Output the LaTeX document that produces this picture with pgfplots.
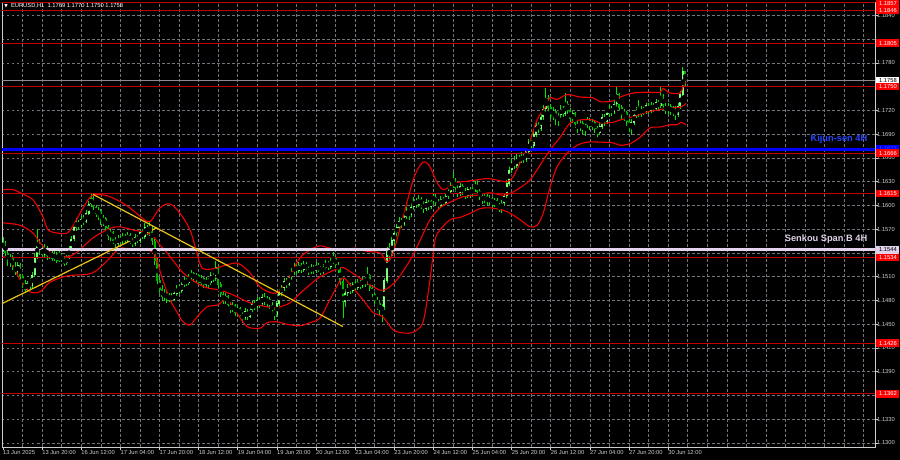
\documentclass[border=0pt]{standalone}
\usepackage{fontspec}
\setmainfont{Liberation Sans}
\newfontfamily\djv{DejaVu Sans}
\usepackage{pgfplots}
\pgfplotsset{compat=1.18}
\usepackage{pgfplotstable}
\definecolor{wick}{RGB}{0,230,0}
\definecolor{bull}{RGB}{125,255,125}
\definecolor{bear}{RGB}{0,180,0}
\definecolor{band}{RGB}{240,0,0}
\definecolor{lvl}{RGB}{195,0,0}
\definecolor{kijun}{RGB}{0,0,255}
\definecolor{kijuntxt}{RGB}{40,70,255}
\definecolor{senkou}{RGB}{225,210,235}
\definecolor{tline}{RGB}{235,195,20}
\definecolor{gridc}{RGB}{115,115,125}
\definecolor{tagred}{RGB}{255,0,0}
\definecolor{txt}{RGB}{205,205,205}
\newcommand{\sm}{\fontsize{5.8}{6.5}\selectfont}

\pgfplotstableread{
i o h l c
0 1.1545 1.1560 1.1541 1.1552
1 1.1552 1.1555 1.1536 1.1540
2 1.1540 1.1546 1.1524 1.1530
3 1.1530 1.1539 1.1522 1.1534
4 1.1534 1.1537 1.1518 1.1522
5 1.1522 1.1528 1.1512 1.1516
6 1.1516 1.1529 1.1512 1.1525
7 1.1525 1.1527 1.1505 1.1510
8 1.1510 1.1514 1.1496 1.1500
9 1.1500 1.1506 1.1490 1.1494
10 1.1494 1.1505 1.1491 1.1502
11 1.1502 1.1508 1.1495 1.1498
12 1.1498 1.1516 1.1496 1.1512
13 1.1512 1.1540 1.1510 1.1535
14 1.1535 1.1570 1.1532 1.1552
15 1.1552 1.1558 1.1538 1.1545
16 1.1545 1.1550 1.1534 1.1538
17 1.1538 1.1552 1.1535 1.1546
18 1.1546 1.1549 1.1531 1.1536
19 1.1536 1.1545 1.1532 1.1540
20 1.1540 1.1544 1.1530 1.1533
21 1.1533 1.1542 1.1530 1.1538
22 1.1538 1.1541 1.1527 1.1530
23 1.1530 1.1546 1.1529 1.1536
24 1.1536 1.1540 1.1528 1.1532
25 1.1532 1.1536 1.1524 1.1527
26 1.1527 1.1538 1.1525 1.1534
27 1.1534 1.1549 1.1532 1.1545
28 1.1545 1.1562 1.1542 1.1558
29 1.1558 1.1576 1.1555 1.1572
30 1.1572 1.1584 1.1568 1.1578
31 1.1578 1.1582 1.1570 1.1574
32 1.1574 1.1587 1.1571 1.1583
33 1.1583 1.1588 1.1576 1.1580
34 1.1580 1.1594 1.1578 1.1590
35 1.1590 1.1606 1.1588 1.1602
36 1.1602 1.1614 1.1598 1.1609
37 1.1609 1.1612 1.1594 1.1598
38 1.1598 1.1601 1.1585 1.1590
39 1.1590 1.1598 1.1582 1.1593
40 1.1593 1.1595 1.1576 1.1580
41 1.1580 1.1588 1.1574 1.1584
42 1.1584 1.1586 1.1568 1.1572
43 1.1572 1.1575 1.1557 1.1562
44 1.1562 1.1570 1.1555 1.1566
45 1.1566 1.1568 1.1552 1.1556
46 1.1556 1.1560 1.1548 1.1552
47 1.1552 1.1563 1.1549 1.1558
48 1.1558 1.1562 1.1551 1.1555
49 1.1555 1.1565 1.1552 1.1561
50 1.1561 1.1564 1.1553 1.1557
51 1.1557 1.1566 1.1554 1.1562
52 1.1562 1.1565 1.1551 1.1556
53 1.1556 1.1559 1.1548 1.1552
54 1.1552 1.1564 1.1549 1.1560
55 1.1560 1.1563 1.1552 1.1556
56 1.1556 1.1570 1.1553 1.1566
57 1.1566 1.1569 1.1557 1.1560
58 1.1560 1.1578 1.1558 1.1572
59 1.1572 1.1576 1.1563 1.1568
60 1.1568 1.1580 1.1562 1.1570
61 1.1570 1.1574 1.1550 1.1555
62 1.1555 1.1558 1.1525 1.1530
63 1.1530 1.1534 1.1500 1.1505
64 1.1505 1.1510 1.1488 1.1494
65 1.1494 1.1499 1.1480 1.1485
66 1.1485 1.1494 1.1479 1.1490
67 1.1490 1.1493 1.1477 1.1482
68 1.1482 1.1490 1.1478 1.1486
69 1.1486 1.1489 1.1477 1.1481
70 1.1481 1.1492 1.1479 1.1489
71 1.1489 1.1499 1.1486 1.1495
72 1.1495 1.1500 1.1488 1.1492
73 1.1492 1.1504 1.1490 1.1500
74 1.1500 1.1510 1.1497 1.1505
75 1.1505 1.1509 1.1498 1.1502
76 1.1502 1.1514 1.1500 1.1510
77 1.1510 1.1518 1.1506 1.1514
78 1.1514 1.1516 1.1504 1.1508
79 1.1508 1.1515 1.1503 1.1512
80 1.1512 1.1514 1.1499 1.1503
81 1.1503 1.1512 1.1500 1.1508
82 1.1508 1.1510 1.1496 1.1500
83 1.1500 1.1510 1.1497 1.1506
84 1.1506 1.1509 1.1496 1.1502
85 1.1502 1.1516 1.1500 1.1512
86 1.1512 1.1515 1.1503 1.1508
87 1.1508 1.1530 1.1505 1.1522
88 1.1522 1.1525 1.1495 1.1500
89 1.1500 1.1503 1.1484 1.1488
90 1.1488 1.1491 1.1475 1.1480
91 1.1480 1.1489 1.1476 1.1485
92 1.1485 1.1487 1.1470 1.1474
93 1.1474 1.1478 1.1464 1.1468
94 1.1468 1.1478 1.1465 1.1474
95 1.1474 1.1476 1.1460 1.1465
96 1.1465 1.1474 1.1461 1.1470
97 1.1470 1.1472 1.1457 1.1462
98 1.1462 1.1466 1.1452 1.1458
99 1.1458 1.1470 1.1455 1.1466
100 1.1466 1.1469 1.1455 1.1460
101 1.1460 1.1472 1.1458 1.1468
102 1.1468 1.1479 1.1465 1.1475
103 1.1475 1.1480 1.1468 1.1472
104 1.1472 1.1485 1.1469 1.1480
105 1.1480 1.1484 1.1471 1.1476
106 1.1476 1.1488 1.1473 1.1484
107 1.1484 1.1489 1.1474 1.1478
108 1.1478 1.1486 1.1472 1.1482
109 1.1482 1.1485 1.1469 1.1474
110 1.1474 1.1478 1.1463 1.1468
111 1.1468 1.1471 1.1455 1.1462
112 1.1462 1.1480 1.1459 1.1476
113 1.1476 1.1494 1.1473 1.1490
114 1.1490 1.1500 1.1486 1.1496
115 1.1496 1.1508 1.1492 1.1504
116 1.1504 1.1509 1.1496 1.1500
117 1.1500 1.1514 1.1498 1.1510
118 1.1510 1.1521 1.1506 1.1516
119 1.1516 1.1527 1.1512 1.1522
120 1.1522 1.1526 1.1514 1.1518
121 1.1518 1.1528 1.1515 1.1524
122 1.1524 1.1527 1.1515 1.1519
123 1.1519 1.1530 1.1516 1.1526
124 1.1526 1.1529 1.1517 1.1521
125 1.1521 1.1524 1.1512 1.1516
126 1.1516 1.1526 1.1513 1.1522
127 1.1522 1.1525 1.1514 1.1518
128 1.1518 1.1528 1.1515 1.1524
129 1.1524 1.1527 1.1516 1.1520
130 1.1520 1.1523 1.1512 1.1516
131 1.1516 1.1526 1.1513 1.1522
132 1.1522 1.1531 1.1518 1.1527
133 1.1527 1.1530 1.1519 1.1523
134 1.1523 1.1535 1.1520 1.1530
135 1.1530 1.1541 1.1526 1.1533
136 1.1533 1.1536 1.1521 1.1525
137 1.1525 1.1528 1.1515 1.1520
138 1.1520 1.1522 1.1500 1.1505
139 1.1505 1.1507 1.1458 1.1478
140 1.1478 1.1494 1.1472 1.1490
141 1.1490 1.1501 1.1486 1.1497
142 1.1497 1.1502 1.1488 1.1492
143 1.1492 1.1504 1.1489 1.1500
144 1.1500 1.1505 1.1492 1.1496
145 1.1496 1.1507 1.1493 1.1503
146 1.1503 1.1506 1.1494 1.1499
147 1.1499 1.1510 1.1496 1.1506
148 1.1506 1.1509 1.1497 1.1502
149 1.1502 1.1522 1.1500 1.1512
150 1.1512 1.1514 1.1492 1.1496
151 1.1496 1.1499 1.1483 1.1488
152 1.1488 1.1491 1.1475 1.1480
153 1.1480 1.1484 1.1468 1.1476
154 1.1476 1.1479 1.1462 1.1468
155 1.1468 1.1476 1.1453 1.1472
156 1.1472 1.1508 1.1468 1.1505
157 1.1505 1.1548 1.1502 1.1542
158 1.1542 1.1552 1.1530 1.1536
159 1.1536 1.1560 1.1533 1.1556
160 1.1556 1.1570 1.1550 1.1565
161 1.1565 1.1577 1.1560 1.1572
162 1.1572 1.1585 1.1568 1.1580
163 1.1580 1.1584 1.1572 1.1577
164 1.1577 1.1590 1.1574 1.1586
165 1.1586 1.1598 1.1583 1.1592
166 1.1592 1.1596 1.1582 1.1588
167 1.1588 1.1603 1.1585 1.1598
168 1.1598 1.1611 1.1594 1.1606
169 1.1606 1.1610 1.1597 1.1601
170 1.1601 1.1613 1.1598 1.1608
171 1.1608 1.1611 1.1596 1.1602
172 1.1602 1.1606 1.1591 1.1596
173 1.1596 1.1608 1.1593 1.1604
174 1.1604 1.1607 1.1594 1.1598
175 1.1598 1.1610 1.1595 1.1606
176 1.1606 1.1616 1.1602 1.1611
177 1.1611 1.1614 1.1600 1.1604
178 1.1604 1.1608 1.1595 1.1600
179 1.1600 1.1612 1.1597 1.1608
180 1.1608 1.1611 1.1599 1.1603
181 1.1603 1.1616 1.1600 1.1612
182 1.1612 1.1623 1.1608 1.1618
183 1.1618 1.1630 1.1614 1.1626
184 1.1626 1.1642 1.1622 1.1632
185 1.1632 1.1635 1.1617 1.1622
186 1.1622 1.1626 1.1611 1.1616
187 1.1616 1.1628 1.1612 1.1624
188 1.1624 1.1627 1.1613 1.1618
189 1.1618 1.1622 1.1608 1.1612
190 1.1612 1.1624 1.1609 1.1620
191 1.1620 1.1623 1.1610 1.1615
192 1.1615 1.1625 1.1611 1.1621
193 1.1621 1.1631 1.1617 1.1626
194 1.1626 1.1633 1.1614 1.1618
195 1.1618 1.1621 1.1607 1.1612
196 1.1612 1.1615 1.1602 1.1606
197 1.1606 1.1616 1.1603 1.1612
198 1.1612 1.1614 1.1600 1.1605
199 1.1605 1.1613 1.1601 1.1609
200 1.1609 1.1611 1.1597 1.1602
201 1.1602 1.1610 1.1598 1.1606
202 1.1606 1.1609 1.1595 1.1600
203 1.1600 1.1603 1.1592 1.1597
204 1.1597 1.1607 1.1590 1.1603
205 1.1603 1.1616 1.1600 1.1612
206 1.1612 1.1632 1.1609 1.1628
207 1.1628 1.1650 1.1625 1.1645
208 1.1645 1.1660 1.1641 1.1655
209 1.1655 1.1662 1.1646 1.1650
210 1.1650 1.1665 1.1647 1.1660
211 1.1660 1.1664 1.1652 1.1656
212 1.1656 1.1667 1.1653 1.1662
213 1.1662 1.1666 1.1654 1.1658
214 1.1658 1.1672 1.1655 1.1668
215 1.1668 1.1684 1.1665 1.1680
216 1.1680 1.1686 1.1671 1.1676
217 1.1676 1.1695 1.1673 1.1690
218 1.1690 1.1707 1.1686 1.1702
219 1.1702 1.1706 1.1692 1.1697
220 1.1697 1.1717 1.1694 1.1712
221 1.1712 1.1727 1.1708 1.1722
222 1.1722 1.1748 1.1718 1.1735
223 1.1735 1.1740 1.1718 1.1724
224 1.1724 1.1728 1.1709 1.1714
225 1.1714 1.1724 1.1708 1.1719
226 1.1719 1.1722 1.1702 1.1708
227 1.1708 1.1718 1.1700 1.1714
228 1.1714 1.1727 1.1710 1.1722
229 1.1722 1.1726 1.1712 1.1716
230 1.1716 1.1742 1.1713 1.1728
231 1.1728 1.1732 1.1715 1.1720
232 1.1720 1.1723 1.1705 1.1710
233 1.1710 1.1720 1.1704 1.1716
234 1.1716 1.1718 1.1698 1.1703
235 1.1703 1.1707 1.1692 1.1698
236 1.1698 1.1708 1.1694 1.1704
237 1.1704 1.1707 1.1690 1.1696
238 1.1696 1.1706 1.1688 1.1702
239 1.1702 1.1712 1.1698 1.1708
240 1.1708 1.1711 1.1695 1.1700
241 1.1700 1.1709 1.1696 1.1705
242 1.1705 1.1708 1.1692 1.1697
243 1.1697 1.1700 1.1686 1.1692
244 1.1692 1.1704 1.1689 1.1700
245 1.1700 1.1716 1.1697 1.1712
246 1.1712 1.1715 1.1701 1.1706
247 1.1706 1.1720 1.1703 1.1716
248 1.1716 1.1727 1.1712 1.1722
249 1.1722 1.1726 1.1713 1.1718
250 1.1718 1.1734 1.1715 1.1728
251 1.1728 1.1750 1.1725 1.1740
252 1.1740 1.1742 1.1720 1.1724
253 1.1724 1.1727 1.1709 1.1714
254 1.1714 1.1722 1.1707 1.1718
255 1.1718 1.1720 1.1700 1.1706
256 1.1706 1.1709 1.1693 1.1698
257 1.1698 1.1709 1.1689 1.1705
258 1.1705 1.1718 1.1702 1.1714
259 1.1714 1.1725 1.1710 1.1720
260 1.1720 1.1733 1.1712 1.1716
261 1.1716 1.1726 1.1712 1.1722
262 1.1722 1.1725 1.1714 1.1718
263 1.1718 1.1730 1.1715 1.1726
264 1.1726 1.1729 1.1716 1.1720
265 1.1720 1.1731 1.1717 1.1727
266 1.1727 1.1730 1.1718 1.1722
267 1.1722 1.1734 1.1719 1.1730
268 1.1730 1.1733 1.1721 1.1726
269 1.1726 1.1749 1.1723 1.1738
270 1.1738 1.1741 1.1721 1.1726
271 1.1726 1.1729 1.1716 1.1720
272 1.1720 1.1729 1.1716 1.1725
273 1.1725 1.1728 1.1714 1.1718
274 1.1718 1.1726 1.1713 1.1722
275 1.1722 1.1725 1.1708 1.1715
276 1.1715 1.1730 1.1712 1.1726
277 1.1726 1.1745 1.1722 1.1740
278 1.1740 1.1775 1.1738 1.1769
279 1.1769 1.1770 1.1750 1.1758
}\candles

\begin{document}
\begin{tikzpicture}
\fill[black] (0,0) rectangle (900bp,460bp);
\useasboundingbox (0,0) rectangle (900bp,460bp);
\begin{axis}[
  at={(2bp,13bp)}, anchor=south west,
  scale only axis, width=873bp, height=445bp,
  xmin=-0.41, xmax=356.6, ymin=1.12949, ymax=1.18570,
  axis line style={draw=white!80!black, line width=0.7bp},
  axis background/.style={fill=black},
  xtick={0,16,...,272},
  minor xtick={8,16,...,352},
  xticklabels={13 Jun 2025,13 Jun 20:00,16 Jun 12:00,17 Jun 04:00,17 Jun 20:00,18 Jun 12:00,19 Jun 04:00,19 Jun 20:00,20 Jun 12:00,23 Jun 04:00,23 Jun 20:00,24 Jun 12:00,25 Jun 04:00,25 Jun 20:00,26 Jun 12:00,27 Jun 04:00,27 Jun 20:00,30 Jun 12:00},
  ytick={1.1300,1.1330,1.1360,1.1390,1.1420,1.1450,1.1480,1.1510,1.1540,1.1570,1.1600,1.1630,1.1660,1.1690,1.1720,1.1750,1.1780,1.1810,1.1840},
  yticklabels={1.1300,1.1330,{},1.1390,1.1420,1.1450,1.1480,1.1510,{},1.1570,1.1600,1.1630,1.1660,1.1690,1.1720,{},1.1780,{},1.1840},
  xtick pos=left, ytick pos=right, yticklabel pos=right,
  ymajorgrids, xminorgrids,
  major grid style={draw=gridc, line width=0.6bp, dash pattern=on 2.5bp off 2.5bp},
  minor grid style={draw=gridc, line width=0.6bp, dash pattern=on 2.5bp off 2.5bp},
  tick align=outside, major tick length=2.5bp, minor tick length=0pt,
  tick style={draw=white!80!black, line width=0.6bp},
  xticklabel style={font=\sm, text=txt, anchor=north west, inner sep=0.5bp, xshift=-0.5bp},
  yticklabel style={font=\sm, text=txt, anchor=west, inner sep=0.5bp, xshift=-1bp},
  clip=true,
]
% wicks
\addplot[only marks, mark=none, forget plot,
  error bars/.cd, y dir=both, y explicit, error mark=none,
  error bar style={line width=0.8bp, draw=wick}]
  table[x=i, y expr={(\thisrow{h}+\thisrow{l})/2}, y error expr={(\thisrow{h}-\thisrow{l})/2}] {\candles};
% bull bodies
\addplot[only marks, mark=none, forget plot,
  restrict expr to domain={\thisrow{c}-\thisrow{o}}{0:1},
  error bars/.cd, y dir=both, y explicit, error mark=none,
  error bar style={line width=2.0bp, draw=bull}]
  table[x=i, y expr={(\thisrow{o}+\thisrow{c})/2}, y error expr={abs(\thisrow{c}-\thisrow{o})/2+0.00003}] {\candles};
% bear bodies
\addplot[only marks, mark=none, forget plot,
  restrict expr to domain={\thisrow{o}-\thisrow{c}}{0.00001:1},
  error bars/.cd, y dir=both, y explicit, error mark=none,
  error bar style={line width=2.0bp, draw=bear}]
  table[x=i, y expr={(\thisrow{o}+\thisrow{c})/2}, y error expr={abs(\thisrow{c}-\thisrow{o})/2+0.00003}] {\candles};

% Bollinger bands
\addplot[band, line width=1.1bp, smooth, tension=0.5] coordinates {
(0,1.1620) (4.1,1.1620) (7,1.1616) (12.3,1.1607) (16.4,1.1585) (18.4,1.1569) (22.5,1.1565) (26.2,1.1565) (28.2,1.1572) (31.5,1.1590) (34.8,1.1607) (36.8,1.1613) (41.7,1.1613) (46.6,1.1607) (51.9,1.1597) (57.3,1.1583) (60.3,1.1580) (64.2,1.1597) (68.3,1.1602) (72.4,1.1590) (76.5,1.1569) (79.3,1.1540) (81.4,1.1521) (85.9,1.1520) (91.6,1.1525) (96.1,1.1527) (101,1.1515) (105.1,1.1497) (110.4,1.1489) (113.3,1.1493) (117.4,1.1512) (121.5,1.1534) (125.6,1.1544) (129.7,1.1549) (133.7,1.1546) (139.1,1.1544) (144,1.1546) (148.9,1.1542) (154.2,1.1540) (157.1,1.1529) (159.5,1.1540) (163.6,1.1585) (167.7,1.1632) (170.6,1.1651) (172.6,1.1655) (174.6,1.1649) (177.5,1.1629) (180,1.1620) (182.8,1.1624) (185.7,1.1629) (191,1.1631) (198,1.1634) (202,1.1632) (206.1,1.1630) (208.6,1.1636) (211.5,1.1654) (214.3,1.1670) (218.4,1.1708) (221.7,1.1724) (223.7,1.1736) (226.6,1.1734) (230.7,1.1740) (236,1.1737) (241.3,1.1736) (244.2,1.1731) (249.5,1.1732) (252.4,1.1737) (257.7,1.1742) (263.4,1.1743) (268.7,1.1743) (269.9,1.1748) (272.8,1.1742) (276.9,1.1742) (278.1,1.1750) (279.3,1.1756)};
\addplot[band, line width=1.1bp, smooth, tension=0.5] coordinates {
(0,1.1578) (7,1.1575) (12.3,1.1565) (16.4,1.1548) (21.3,1.1537) (26.2,1.1535) (30.3,1.1541) (36.8,1.1559) (43.8,1.1571) (47.9,1.1573) (53.2,1.1569) (58.1,1.1566) (61.3,1.1561) (64.2,1.1550) (67.1,1.1540) (73.6,1.1515) (79.3,1.1502) (83.4,1.1496) (88.8,1.1493) (94.1,1.1487) (101,1.1477) (108,1.1472) (112.1,1.1471) (117.4,1.1477) (121.5,1.1489) (125.6,1.1500) (129.7,1.1510) (137.8,1.1521) (140.7,1.1519) (148.9,1.1502) (154.2,1.1493) (157.1,1.1495) (161.1,1.1506) (166.5,1.1531) (170.6,1.1556) (174.6,1.1582) (178.7,1.1597) (182.8,1.1604) (188.1,1.1611) (193.9,1.1613) (199.2,1.1616) (204.5,1.1613) (208.6,1.1617) (212.7,1.1625) (215.5,1.1632) (218.4,1.1645) (223.7,1.1670) (227.8,1.1686) (231.9,1.1704) (236,1.1708) (241.3,1.1708) (244.2,1.1704) (249.5,1.1705) (252.4,1.1708) (257.7,1.1712) (263.4,1.1718) (268.7,1.1721) (271.6,1.1723) (276.9,1.1724) (279.3,1.1729)};
\addplot[band, line width=1.1bp, smooth, tension=0.5] coordinates {
(0,1.1535) (2.9,1.1531) (7,1.1506) (11,1.1491) (15.1,1.1491) (19.2,1.1503) (26.2,1.1511) (34.4,1.1513) (38.4,1.1518) (43.8,1.1534) (47.9,1.1546) (53.2,1.1544) (58.9,1.1544) (62.2,1.1537) (65,1.1509) (68.3,1.1481) (71.2,1.1465) (73.6,1.1453) (76.5,1.1449) (79.3,1.1459) (83.4,1.1472) (87.5,1.1474) (91.6,1.1481) (95.7,1.1464) (99.8,1.1447) (105.1,1.1445) (108,1.1452) (112.1,1.1453) (116.2,1.1450) (121.5,1.1448) (125.6,1.1452) (129.7,1.1458) (133.7,1.1481) (138.7,1.1508) (141.9,1.1500) (147.2,1.1481) (151.3,1.1465) (155.4,1.1459) (159.5,1.1443) (163.6,1.1439) (167.7,1.1440) (171.8,1.1453) (174.6,1.1506) (176.7,1.1556) (178.7,1.1569) (182.8,1.1582) (186.9,1.1585) (191,1.1590) (195.1,1.1596) (199.2,1.1597) (204.5,1.1594) (207.4,1.1590) (211.5,1.1582) (215.5,1.1573) (218.4,1.1575) (220.9,1.1590) (223.7,1.1623) (226.6,1.1649) (230.7,1.1666) (234.8,1.1676) (238.9,1.1680) (244.2,1.1680) (249.5,1.1679) (252.4,1.1676) (256.4,1.1678) (260.5,1.1686) (264.6,1.1698) (268.7,1.1699) (272.8,1.1702) (275.7,1.1702) (277.3,1.1705) (279.3,1.1702)};

% horizontal levels
\addplot[lvl, line width=0.9bp] coordinates {(-1,1.1856) (357,1.1856)};
\addplot[lvl, line width=0.9bp] coordinates {(-1,1.1846) (357,1.1846)};
\addplot[lvl, line width=0.9bp] coordinates {(-1,1.1805) (357,1.1805)};
\addplot[lvl, line width=0.9bp] coordinates {(-1,1.1750) (357,1.1750)};
\addplot[lvl, line width=0.9bp] coordinates {(-1,1.1666) (357,1.1666)};
\addplot[lvl, line width=0.9bp] coordinates {(-1,1.1615) (357,1.1615)};
\addplot[lvl, line width=0.9bp] coordinates {(-1,1.1534) (357,1.1534)};
\addplot[lvl, line width=0.9bp] coordinates {(-1,1.1426) (357,1.1426)};
\addplot[lvl, line width=0.9bp] coordinates {(-1,1.1362) (357,1.1362)};
\addplot[white!55!black, line width=0.8bp] coordinates {(-1,1.1758) (357,1.1758)};
\addplot[kijun, line width=3bp] coordinates {(-1,1.1671) (357,1.1671)};
\addplot[senkou, line width=3bp] coordinates {(-1,1.1544) (357,1.1544)};

% trend lines
\addplot[tline, line width=1.2bp] coordinates {(-0.4,1.1476) (63,1.1572)};
\addplot[tline, line width=1.2bp] coordinates {(36.8,1.1614) (139,1.1447)};

\node[anchor=east, text=kijuntxt, font=\bfseries\fontsize{9.3}{10}\selectfont, inner sep=0pt] at (axis cs:353.5,1.1684) {Kijun-sen 4H};
\node[anchor=east, text=senkou, font=\bfseries\fontsize{9.3}{10}\selectfont, inner sep=0pt] at (axis cs:353.5,1.1557) {Senkou Span B 4H};
\node[anchor=west, text=white, font=\sm, inner sep=0pt] at (rel axis cs:0.0025,0.991) {{\djv\fontsize{4.5}{5}\selectfont ▼}\ \ EURUSD,H1\ \ 1.1769 1.1770 1.1750 1.1758};

\coordinate (t1856) at (axis cs:356.6,1.1855);
\coordinate (t1846) at (axis cs:356.6,1.1846);
\coordinate (t1805) at (axis cs:356.6,1.1805);
\coordinate (t1758) at (axis cs:356.6,1.1758);
\coordinate (t1750) at (axis cs:356.6,1.1750);
\coordinate (t1671) at (axis cs:356.6,1.1672);
\coordinate (t1666) at (axis cs:356.6,1.1666);
\coordinate (t1615) at (axis cs:356.6,1.1615);
\coordinate (t1544) at (axis cs:356.6,1.1544);
\coordinate (t1534) at (axis cs:356.6,1.1534);
\coordinate (t1426) at (axis cs:356.6,1.1426);
\coordinate (t1362) at (axis cs:356.6,1.1362);
\end{axis}
\tikzset{tag/.style={fill=tagred, text=white, font=\sm, anchor=west, inner sep=0pt, minimum height=7.5bp, minimum width=23bp, xshift=1.2bp}}
\node[tag] at (t1856) {1.1857};
\node[tag] at (t1846) {1.1846};
\node[tag] at (t1805) {1.1805};
\node[tag, fill=white, text=black] at (t1758) {1.1758};
\node[tag] at (t1750) {1.1750};
\node[tag, fill=kijun, text=kijun!75!white] at (t1671) {1.1671};
\node[tag] at (t1666) {1.1666};
\node[tag] at (t1615) {1.1615};
\node[tag, fill=senkou, text=black] at (t1544) {1.1544};
\node[tag] at (t1534) {1.1534};
\node[tag] at (t1426) {1.1426};
\node[tag] at (t1362) {1.1362};
\end{tikzpicture}
\end{document}
